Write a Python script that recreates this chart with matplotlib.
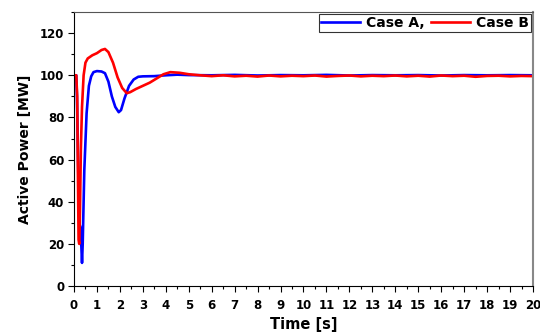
import matplotlib
matplotlib.use("Agg")
import matplotlib.pyplot as plt
from matplotlib.ticker import MultipleLocator

plt.rcParams['font.family'] = ['DejaVu Sans']

# Case A (blue)
time_a = [0, 0.1, 0.13, 0.17, 0.21, 0.25, 0.28, 0.31, 0.35, 0.38, 0.45, 0.55, 0.65, 0.75,
          0.85, 1.0, 1.2, 1.35, 1.5, 1.65, 1.8, 1.95, 2.05, 2.2, 2.4, 2.6, 2.8, 3.0, 3.5,
          4.0, 4.5, 5.0, 6.0, 7.0, 8.0, 9.0, 10.0, 11.0, 12.0, 13.0, 14.0, 15.0, 16.0,
          17.0, 18.0, 19.0, 20.0]
power_a = [100, 100, 90, 65, 40, 29, 28, 22, 11, 20, 55, 82, 95, 99.5,
           101.5, 102, 101.8, 101, 97, 90, 85, 82.5, 83.5, 89, 95, 98, 99.3, 99.5, 99.6,
           100, 100.3, 100.1, 100, 100.2, 99.9, 100.1, 100, 100.2, 99.9, 100.1, 100, 100.1, 99.9,
           100.1, 100, 100.1, 100]

# Case B (red)
time_b = [0, 0.1, 0.14, 0.17, 0.2, 0.23, 0.26, 0.3, 0.35, 0.42, 0.5, 0.6, 0.8, 1.0, 1.2,
          1.35, 1.5, 1.7, 1.9, 2.1, 2.3, 2.45, 2.7, 3.0, 3.3, 3.6, 3.9, 4.2, 4.6, 5.0, 5.5,
          6.0, 6.5, 7.0, 7.5, 8.0, 8.5, 9.0, 9.5, 10.0, 10.5, 11.0, 11.5, 12.0, 12.5, 13.0,
          13.5, 14.0, 14.5, 15.0, 15.5, 16.0, 16.5, 17.0, 17.5, 18.0, 18.5, 19.0, 19.5, 20.0]
power_b = [100, 100, 90, 55, 22, 20, 35, 65, 85, 100, 106, 108, 109.5, 110.5, 112,
           112.5, 111, 106, 99, 94, 91.5, 92, 93.5, 95, 96.5, 98.5, 100.5, 101.5, 101.2, 100.5, 100,
           99.6, 100, 99.5, 99.8, 99.4, 99.9, 99.5, 99.8, 99.6, 99.9, 99.4, 99.7, 99.9, 99.5, 99.8,
           99.6, 99.9, 99.5, 99.8, 99.4, 99.9, 99.6, 99.8, 99.3, 99.7, 99.8, 99.5, 99.7, 99.6]

x_ticks = list(range(0, 21))
y_ticks = [0, 20, 40, 60, 80, 100, 120]

fig = plt.figure(figsize=(5.4, 3.35), dpi=100)
ax = fig.add_axes([0.137, 0.146, 0.850, 0.818])

ax.plot(time_a, power_a, color='#0000ff', lw=1.9, label='Case A,')
ax.plot(time_b, power_b, color='#ff0000', lw=1.9, label='Case B')

ax.set_xlim(0, 20)
ax.set_ylim(0, 130)
ax.set_xticks(x_ticks)
ax.set_yticks(y_ticks)
ax.xaxis.set_minor_locator(MultipleLocator(0.5))
ax.yaxis.set_minor_locator(MultipleLocator(10))
ax.tick_params(which='both', direction='out', length=4, width=0.8, labelsize=8.5)
ax.tick_params(axis='x', pad=5)
ax.tick_params(axis='y', pad=3)
ax.tick_params(which='minor', length=2.5)
for lab in ax.get_xticklabels() + ax.get_yticklabels():
    lab.set_fontweight('bold')

ax.spines['top'].set_color('#555555')
ax.spines['right'].set_color('#888888')
ax.spines['right'].set_linewidth(1.5)

ax.set_xlabel('Time [s]', fontsize=10.5, fontweight='bold', labelpad=4)
ax.set_ylabel('Active Power [MW]', fontsize=10, fontweight='bold', labelpad=6)

leg = ax.legend(loc='upper right', ncol=2, frameon=True, fancybox=False,
                prop={'weight': 'bold', 'size': 10}, borderpad=0.15,
                handlelength=2.8, handletextpad=0.4, columnspacing=0.5,
                borderaxespad=0.15)
leg.get_frame().set_edgecolor('black')
leg.get_frame().set_linewidth(0.8)

fig.savefig('out.png', dpi=100)
